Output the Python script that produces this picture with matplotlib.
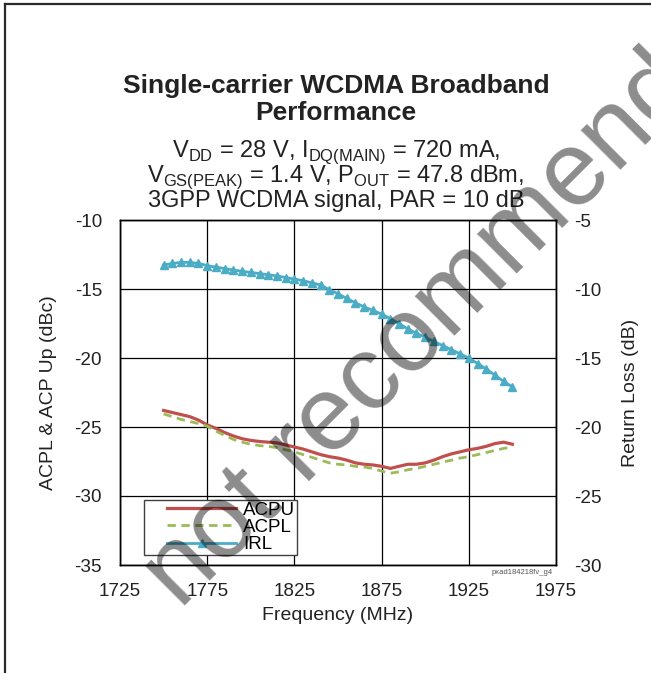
import matplotlib
matplotlib.use('Agg')
import matplotlib.pyplot as plt
from matplotlib.lines import Line2D
from matplotlib.legend_handler import HandlerLine2D

plt.rcParams['font.family'] = ['Liberation Sans', 'DejaVu Sans']
plt.rcParams['mathtext.fontset'] = 'custom'
plt.rcParams['mathtext.rm'] = 'Liberation Sans'
plt.rcParams['axes.unicode_minus'] = False

# Frequency points (MHz)
freq = [1750, 1755, 1760, 1765, 1770, 1775, 1780, 1785, 1790, 1795,
        1800, 1805, 1810, 1815, 1820, 1825, 1830, 1835, 1840, 1845,
        1850, 1855, 1860, 1865, 1870, 1875, 1880, 1885, 1890, 1895,
        1900, 1905, 1910, 1915, 1920, 1925, 1930, 1935, 1940, 1945,
        1950]

# ACPU / ACPL in dBc (left axis)
acpu = [-23.8, -23.95, -24.1, -24.25, -24.5, -24.85, -25.1, -25.4, -25.65, -25.85,
        -25.97, -26.05, -26.1, -26.15, -26.3, -26.45, -26.6, -26.8, -27.0, -27.15,
        -27.25, -27.4, -27.6, -27.7, -27.75, -27.85, -28.0, -27.85, -27.7, -27.7,
        -27.6, -27.4, -27.15, -26.95, -26.8, -26.65, -26.55, -26.4, -26.2, -26.1,
        -26.25]
acpl = [-24.05, -24.25, -24.45, -24.6, -24.75, -24.95, -25.3, -25.6, -25.9, -26.1,
        -26.25, -26.35, -26.4, -26.5, -26.65, -26.8, -27.0, -27.2, -27.4, -27.6,
        -27.7, -27.75, -27.85, -27.9, -28.0, -28.2, -28.35, -28.25, -28.1, -28.0,
        -27.85, -27.7, -27.55, -27.4, -27.25, -27.15, -27.0, -26.85, -26.7, -26.55,
        -26.45]

# Input return loss in dB (right axis)
irl = [-8.26, -8.15, -8.07, -8.07, -8.15, -8.3, -8.42, -8.52, -8.62, -8.72,
       -8.8, -8.88, -8.97, -9.05, -9.17, -9.28, -9.4, -9.55, -9.71, -10.05,
       -10.35, -10.68, -11.0, -11.3, -11.55, -11.82, -12.15, -12.5, -12.9, -13.2,
       -13.5, -13.8, -14.1, -14.4, -14.7, -15.0, -15.4, -15.8, -16.25, -16.7,
       -17.1]

x_ticks = [1725, 1775, 1825, 1875, 1925, 1975]
left_ticks = [-35, -30, -25, -20, -15, -10]
right_ticks = [-30, -25, -20, -15, -10, -5]

RED = '#C0504D'
GREEN = '#9BBB59'
CYAN = '#4BACC6'
TXT = '#222222'

W, H = 651, 673
fig = plt.figure(figsize=(W / 100, H / 100), dpi=100, facecolor='white')

ax = fig.add_axes([120 / W, 1 - 565 / H, 436 / W, 345 / H])
ax2 = ax.twinx()

l1, = ax.plot(freq, acpu, color=RED, lw=2.3, label='ACPU')
l2, = ax.plot(freq, acpl, color=GREEN, lw=2.0, ls=(0, (3, 2)), label='ACPL')
l3, = ax2.plot(freq, irl, color=CYAN, lw=2.0, marker='^', markersize=6,
               label='IRL')

ax.set_xlim(1725, 1975)
ax.set_ylim(-35, -10)
ax2.set_ylim(-30, -5)
ax.set_xticks(x_ticks)
ax.set_yticks(left_ticks)
ax2.set_yticks(right_ticks)

ax.grid(True, color='black', lw=0.9)
ax.set_axisbelow(True)

for a in (ax, ax2):
    a.tick_params(length=0, labelsize=13.6, colors=TXT)
    for s in a.spines.values():
        s.set_color('black')
        s.set_linewidth(1.0)
ax.tick_params(axis='y', pad=13)
ax.tick_params(axis='x', pad=13)
ax2.tick_params(axis='y', pad=13)

ax.set_xlabel('Frequency (MHz)', fontsize=14, color=TXT, va='center')
ax.xaxis.set_label_coords(0.5, -0.147)
ax.set_ylabel('ACPL & ACP Up (dBc)', fontsize=14, color=TXT, va='center')
ax.yaxis.set_label_coords(-0.163, 0.5)
ax2.set_ylabel('Return Loss (dB)', fontsize=14, color=TXT, va='center',
               rotation=90)
ax2.yaxis.set_label_coords(1.17, 0.5)

leg = ax2.legend(handles=[l1, l2, l3], loc='lower left',
                 bbox_to_anchor=(0.055, 0.029), fontsize=13.5,
                 handlelength=4.8, handletextpad=0.4, borderpad=0.1,
                 labelspacing=0.0, borderaxespad=0, fancybox=False,
                 framealpha=1, edgecolor='#404040', numpoints=1,
                 handler_map={Line2D: HandlerLine2D(xpad=1.15)})
leg.get_frame().set_linewidth(1.0)

ax.text(0.993, -0.023, 'pxad184218fv_g4', transform=ax.transAxes,
        ha='right', va='center', fontsize=5.5, color='#555555')

# Title block
cx = 336 / W
fig.text(cx, 1 - 93.3 / H, 'Single-carrier WCDMA Broadband', ha='center',
         va='baseline', fontsize=19, fontweight='bold', color=TXT)
fig.text(cx, 1 - 120 / H, 'Performance', ha='center', va='baseline',
         fontsize=19, fontweight='bold', color=TXT)
fig.text(cx, 1 - 156.7 / H,
         r'V$_\mathregular{DD}$ = 28 V, I$_\mathregular{DQ(MAIN)}$ = 720 mA,',
         ha='center', va='baseline', fontsize=17, color=TXT)
fig.text(cx, 1 - 181.7 / H,
         r'V$_\mathregular{GS(PEAK)}$ = 1.4 V, P$_\mathregular{OUT}$ = 47.8 dBm,',
         ha='center', va='baseline', fontsize=17, color=TXT)
fig.text(cx, 1 - 207.3 / H, '3GPP WCDMA signal, PAR = 10 dB', ha='center',
         va='baseline', fontsize=17, color=TXT)

# Page border (top and left)
fig.add_artist(Line2D([5 / W, 1.0], [1 - 4 / H, 1 - 4 / H],
                      transform=fig.transFigure, color='#2a2a2a', lw=1.6))
fig.add_artist(Line2D([5 / W, 5 / W], [0.0, 1 - 4 / H],
                      transform=fig.transFigure, color='#2a2a2a', lw=1.6))

# Watermark
fig.text(462 / W, 1 - 290 / H, 'not recommended', rotation=45,
         rotation_mode='anchor', ha='center', va='center', fontsize=76,
         color='black', alpha=0.45, zorder=10)

fig.savefig('out.png', dpi=100, facecolor='white')
